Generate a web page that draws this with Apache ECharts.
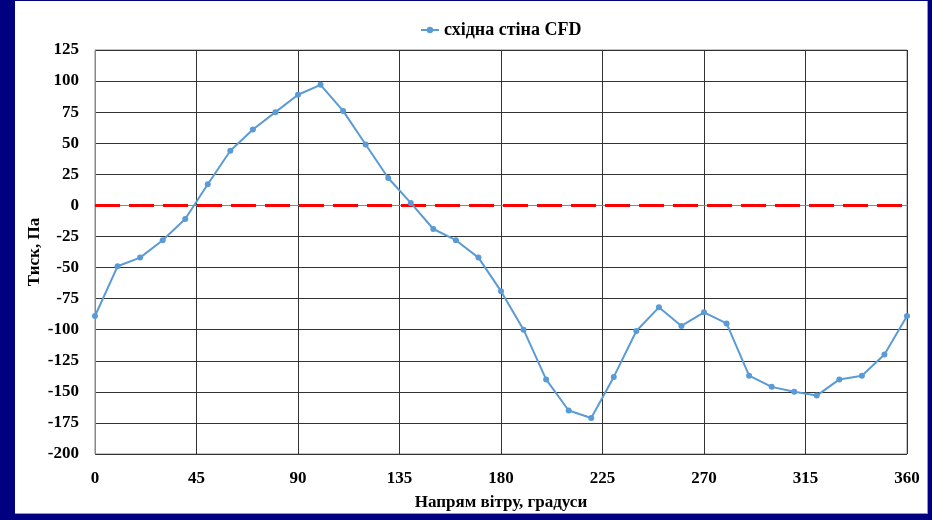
<!DOCTYPE html>
<html>
<head>
<meta charset="utf-8">
<script src="https://cdn.jsdelivr.net/npm/echarts@6/dist/echarts.min.js"></script>
<style>
html,body{margin:0;padding:0;background:#000080;}
#panel{position:absolute;left:15px;top:1px;width:912px;height:512px;background:#fff;border-right:1px solid #9a9a9a;border-bottom:1px solid #9a9a9a;}
#chart{position:absolute;left:0;top:0;width:932px;height:520px;}
</style>
</head>
<body>
<div id="panel"></div>
<div id="chart"></div>
<script>
// Data
const seriesName = 'східна стіна CFD';
const angles = [0,10,20,30,40,50,60,70,80,90,100,110,120,130,140,150,160,170,180,190,200,210,220,230,240,250,260,270,280,290,300,310,320,330,340,350,360];
const pressure = [-89,-49,-42,-28,-11,17,44,61,75,89,97,76,49,22,2,-19,-28,-42,-69,-100,-140,-165,-171,-138,-101,-82,-97,-86,-95,-137,-146,-150,-153,-140,-137,-120,-89];
const xTicks = [0,45,90,135,180,225,270,315,360];
const yTicks = [-200,-175,-150,-125,-100,-75,-50,-25,0,25,50,75,100,125];
const xTitle = 'Напрям вітру, градуси';
const yTitle = 'Тиск, Па';

const font = 'Liberation Serif';
const chart = echarts.init(document.getElementById('chart'), null, {renderer:'canvas'});
chart.setOption({
  backgroundColor: 'transparent',
  animation: false,
  legend: {
    top: 16, left: 415,
    itemWidth: 18, itemHeight: 8, itemGap: 3,
    textStyle: {fontFamily: font, fontWeight: 'bold', fontSize: 18, color: '#000'},
    data: [seriesName]
  },
  grid: {left: 95, right: 25, top: 50, bottom: 66, show: true, borderColor: '#888', borderWidth: 1},
  xAxis: {
    type: 'value', min: xTicks[0], max: xTicks[xTicks.length-1], interval: 45,
    name: xTitle, nameLocation: 'middle', nameGap: 40, nameMoveOverlap: false,
    nameTextStyle: {fontFamily: font, fontWeight: 'bold', fontSize: 17, color: '#000'},
    axisLine: {show: true, lineStyle: {color: '#888'}},
    axisTick: {show: false},
    axisLabel: {fontFamily: font, fontWeight: 'bold', fontSize: 17, color: '#000', margin: 16},
    splitLine: {show: true, lineStyle: {color: '#333', width: 1}}
  },
  yAxis: {
    type: 'value', min: yTicks[0], max: yTicks[yTicks.length-1], interval: 25,
    name: yTitle, nameLocation: 'middle', nameGap: 52, nameRotate: 90, nameMoveOverlap: false,
    nameTextStyle: {fontFamily: font, fontWeight: 'bold', fontSize: 17, color: '#000'},
    axisLine: {show: true, lineStyle: {color: '#888'}},
    axisTick: {show: false},
    axisLabel: {fontFamily: font, fontWeight: 'bold', fontSize: 17, color: '#000', margin: 16},
    splitLine: {show: true, lineStyle: {color: '#333', width: 1}}
  },
  series: [{
    name: seriesName,
    type: 'line',
    data: angles.map((a, i) => [a, pressure[i]]),
    symbol: 'circle', symbolSize: 6,
    itemStyle: {color: '#5B9BD5'},
    lineStyle: {color: '#5B9BD5', width: 2},
    z: 5,
    markLine: {
      silent: true, symbol: 'none',
      label: {show: false},
      lineStyle: {color: '#FF0000', type: [25, 9], width: 3},
      emphasis: {disabled: true},
      data: [{yAxis: 0}]
    }
  }]
});
</script>
</body>
</html>
